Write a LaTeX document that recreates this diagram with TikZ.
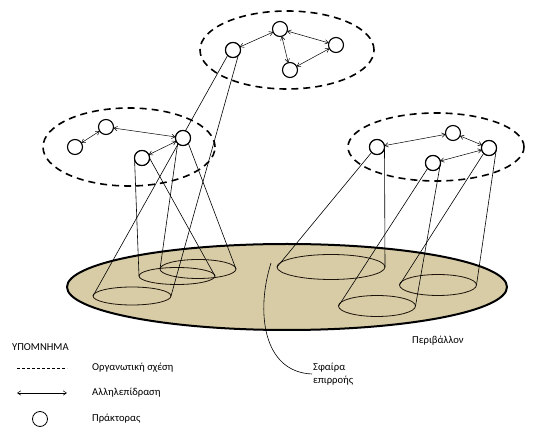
\documentclass[tikz,border=0pt]{standalone}
\usepackage{fontspec}
\setmainfont{Carlito}
\usetikzlibrary{arrows.meta,shapes.geometric}
\definecolor{envfill}{RGB}{215,204,166}
\tikzset{
  agent/.style={circle,draw,line width=1.1pt,fill=white,minimum size=15pt,inner sep=0pt,outer sep=0pt},
  sphere/.style={ellipse,draw=black!85!brown,line width=0.8pt,inner sep=0pt,outer sep=0pt},
  cone/.style={line width=0.6pt},
  inter/.style={{Straight Barb[length=3.5pt,width=4.5pt]}-{Straight Barb[length=3.5pt,width=4.5pt]},line width=0.5pt},
  groupline/.style={dash pattern=on 7pt off 5pt,line width=1.6pt},
  lbl/.style={font=\fontsize{10.6}{12.5}\selectfont,inner sep=1pt},
}
\begin{document}
\begin{tikzpicture}[x=1pt,y=-1pt]
\useasboundingbox (0,0) rectangle (536,435);
% environment
\draw[fill=envfill,line width=2pt] (287,287) ellipse [x radius=220pt, y radius=43pt];
% spheres of influence
\node[sphere,minimum width=78pt,minimum height=18pt] (E1) at (132,296) {};
\node[sphere,minimum width=76pt,minimum height=17pt] (E2) at (177,276) {};
\node[sphere,minimum width=76pt,minimum height=19pt] (E3) at (198,269) {};
\node[sphere,minimum width=108pt,minimum height=25pt] (E4) at (331,267) {};
\node[sphere,minimum width=77pt,minimum height=21pt] (E5) at (377,306) {};
\node[sphere,minimum width=77pt,minimum height=21pt] (E6) at (438,285) {};
% group ellipses
\draw[groupline] (287,50) ellipse [x radius=87pt, y radius=39pt];
\draw[groupline] (129,147) ellipse [x radius=86pt, y radius=39pt];
\draw[groupline] (436,147) ellipse [x radius=88pt, y radius=34pt];
% agents
\node[agent] (T1) at (233,50) {};
\node[agent] (T2) at (280,29) {};
\node[agent] (T3) at (336,45) {};
\node[agent] (T4) at (290,70) {};
\node[agent] (L1) at (75,147) {};
\node[agent] (L2) at (106,127) {};
\node[agent] (L3) at (183,138) {};
\node[agent] (L4) at (142,158) {};
\node[agent] (R1) at (377,147) {};
\node[agent] (R2) at (453,133) {};
\node[agent] (R3) at (489,148) {};
\node[agent] (R4) at (433,163) {};
% cones
\draw[cone] (T1.south west) -- (E1.west);
\draw[cone] (T1.south east) -- (E1.east);
\draw[cone] (L3.south west) -- (E3.west);
\draw[cone] (L3.south east) -- (E3.east);
\draw[cone] (L4.west) -- (E2.west);
\draw[cone] (L4.east) -- (E2.east);
\draw[cone] (R1.south west) -- (E4.west);
\draw[cone] (R1.east) -- (E4.east);
\draw[cone] (R4.south west) -- (E5.west);
\draw[cone] (R4.east) -- (E5.east);
\draw[cone] (R3.south west) -- (E6.west);
\draw[cone] (R3.east) -- (E6.east);
% redraw agents on top of the cone lines
\foreach \x/\y in {233/50,183/138,142/158,377/147,489/148,433/163}
  \node[agent] at (\x,\y) {};
% interactions
\draw[inter] (T1) -- (T2);
\draw[inter] (T2) -- (T3);
\draw[inter] (T2) -- (T4);
\draw[inter] (T4) -- (T3);
\draw[inter] (L1) -- (L2);
\draw[inter] (L2) -- (L3);
\draw[inter] (L3) -- (L4);
\draw[inter] (R1) -- (R2);
\draw[inter] (R2) -- (R3);
\draw[inter] (R3) -- (R4);
% labels
\node[lbl,anchor=west] (env) at (411,341) {Περιβάλλον};
\node[lbl,anchor=west,align=left] (sph) at (312,374) {Σφαίρα\\επιρροής};
\coordinate (lead) at (271,263);
\draw[line width=0.6pt] (lead) .. controls (256,310) and (262,372) .. (sph.west);
% legend
\node[lbl,anchor=west] (leg) at (11,347) {ΥΠΟΜΝΗΜΑ};
\coordinate (d1) at (17,368); \coordinate (d2) at (67,368);
\draw[dash pattern=on 2.5pt off 2.5pt,line width=0.5pt] (d1) -- (d2);
\node[lbl,anchor=west] (t1) at (91,368) {Οργανωτική σχέση};
\coordinate (a1) at (17,393); \coordinate (a2) at (67,393);
\draw[inter] (a1) -- (a2);
\node[lbl,anchor=west] (t2) at (91,393) {Αλληλεπίδραση};
\node[agent,line width=0.8pt] (c1) at (40,419) {};
\node[lbl,anchor=west] (t3) at (91,419) {Πράκτορας};
\end{tikzpicture}
\end{document}
